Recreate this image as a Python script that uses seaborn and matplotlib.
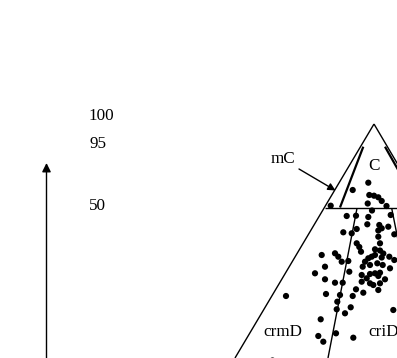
import matplotlib
matplotlib.use("Agg")
import matplotlib.pyplot as plt
import seaborn as sns
import pandas as pd

# ---- data (diagram coordinates, y grows downward) ----
dot_x = [352.7, 368.3, 369.3, 374.0, 378.3, 381.7, 386.5, 367.7, 330.7,
         346.7, 356.0, 372.0, 368.3, 390.7,
         343.3, 351.7, 356.7, 367.3, 379.3, 381.7, 378.3, 388.3, 394.3,
         356.7, 359.3, 361.0, 378.3, 380.0, 375.0, 380.0, 383.3, 368.3, 371.7, 375.0, 381.7, 389.3, 394.3,
         321.7, 335.0, 338.3, 341.7, 348.3, 365.0, 362.7, 370.0, 325.0, 377.3, 382.7, 390.0,
         315.0, 349.3, 361.7, 370.0, 375.0, 378.3, 380.0,
         325.0, 335.0, 342.7, 366.7, 370.0, 373.3, 380.0, 385.0, 378.3, 363.3, 356.0, 361.7,
         326.0, 340.0, 352.7, 337.3, 336.7, 345.0, 350.7, 393.3,
         320.7, 336.0, 318.3, 323.3, 353.3, 286.0, 272.5]
dot_y = [190.0, 182.7, 195.0, 195.7, 197.3, 201.0, 206.0, 203.5, 205.7,
         216.0, 215.7, 210.5, 217.0, 215.0,
         232.3, 233.3, 229.0, 224.3, 225.0, 228.3, 230.5, 226.7, 234.3,
         243.3, 247.0, 251.7, 236.7, 243.3, 249.3, 250.5, 253.5, 258.3, 256.7, 255.0, 257.5, 256.7, 260.0,
         255.0, 253.3, 256.7, 261.7, 261.0, 261.7, 266.7, 265.0, 266.7, 263.3, 265.0, 268.3,
         273.3, 271.7, 275.0, 274.0, 273.3, 276.0, 272.7,
         279.3, 282.7, 282.7, 278.3, 283.3, 285.0, 283.3, 279.3, 290.0, 292.7, 289.3, 281.7,
         294.0, 295.0, 296.0, 301.7, 309.3, 313.3, 307.3, 310.0,
         319.3, 333.3, 336.0, 341.7, 337.7, 296.0, 360.5]

scale_labels = ["100", "95", "50"]
scale_y = [116.5, 144.0, 206.0]

region_labels = ["mC", "C", "crmD", "criD"]
region_x = [283.0, 374.0, 282.7, 383.5]
region_y = [159.0, 166.0, 331.7, 331.7]

# diagram frame (boundary lines)
left_edge = ([374.0, 235.0], [124.0, 358.0])
right_edge = ([374.0, 430.0], [124.0, 219.0])
mc_line = ([363.3, 340.0], [146.7, 207.5])
rc_line = ([385.0, 405.0], [146.7, 182.0])
h_line = ([324.8, 400.0], [208.3, 208.3])
crm_line = ([357.0, 328.0], [208.3, 358.0])
rcri_line = ([391.7, 400.0], [208.3, 250.0])

sns.set_theme(style="white")
plt.rcParams["font.family"] = ["Liberation Serif", "DejaVu Serif"]

fig = plt.figure(figsize=(3.97, 3.58), dpi=100)
ax = fig.add_axes([0, 0, 1, 1])

lw = 1.0
for xs, ys in [left_edge, right_edge, h_line, crm_line, rcri_line]:
    ax.plot(xs, ys, color="black", lw=lw, solid_capstyle="butt")
for xs, ys in [mc_line, rc_line]:
    ax.plot(xs, ys, color="black", lw=1.6, solid_capstyle="butt")

df = pd.DataFrame({"x": dot_x, "y": dot_y})
sns.scatterplot(data=df, x="x", y="y", ax=ax, color="black", s=20,
                edgecolor="none", legend=False)
ax.set_xlim(0, 397)
ax.set_ylim(358, 0)
ax.axis("off")

# mC arrow
ax.annotate("", xy=(335.5, 190.5), xytext=(299, 169),
            arrowprops=dict(arrowstyle="-|>", color="black", lw=1.0,
                            mutation_scale=11, shrinkA=0, shrinkB=0))
# vertical arrow at left
ax.annotate("", xy=(46.5, 163), xytext=(46.5, 362),
            arrowprops=dict(arrowstyle="-|>", color="black", lw=1.0,
                            mutation_scale=13, shrinkA=0, shrinkB=0))

for lab, yy in zip(scale_labels, scale_y):
    ax.text(89, yy, lab, ha="left", va="center", fontsize=12.3, color="black")
for lab, xx, yy in zip(region_labels, region_x, region_y):
    ax.text(xx, yy, lab, ha="center", va="center", fontsize=12.3, color="black")

fig.savefig("out.png", dpi=100, facecolor="white")
